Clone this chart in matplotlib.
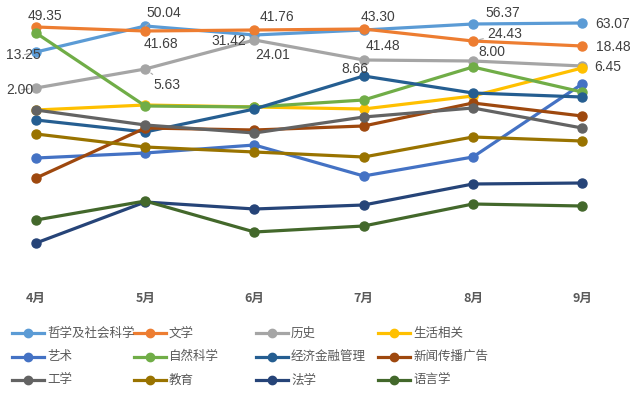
import matplotlib
matplotlib.use('Agg')
import matplotlib.pyplot as plt
from matplotlib.lines import Line2D

plt.rcParams['font.family'] = ['Noto Sans CJK SC', 'DejaVu Sans']

months = ['4月', '5月', '6月', '7月', '8月', '9月']
names = ['哲学及社会科学', '文学', '历史', '生活相关',
         '艺术', '自然科学', '经济金融管理', '新闻传播广告',
         '工学', '教育', '法学', '语言学']
colors = ['#5B9BD5', '#ED7D31', '#A5A5A5', '#FFC000',
          '#4472C4', '#70AD47', '#255E91', '#9E480E',
          '#636363', '#997300', '#264478', '#43682B']

# 各类别每月的相对位置（图中无纵轴，按图读取）
zhexue = [233, 259, 250, 255, 261, 262]
wenxue = [258, 254, 255, 256, 244, 239]
lishi = [197, 216, 245, 225, 224, 219]
shenghuo = [175, 180, 178, 176, 189, 217]
yishu = [127, 132, 140, 109, 128, 201]
ziran = [252, 179, 178, 185, 218, 193]
jingji = [165, 153, 176, 209, 192, 188]
xinwen = [107, 157, 155, 159, 182, 169]
gongxue = [175, 160, 152, 168, 177, 157]
jiaoyu = [151, 138, 133, 128, 148, 144]
faxue = [42, 83, 76, 80, 101, 102]
yuyan = [65, 84, 53, 59, 81, 79]
series = [zhexue, wenxue, lishi, shenghuo, yishu, ziran,
          jingji, xinwen, gongxue, jiaoyu, faxue, yuyan]

# 数据标签
zhexue_lbl = ['13.25', '50.04', '31.42', '41.48', '56.37', '63.07']
wenxue_lbl = ['49.35', '41.68', '41.76', '43.30', '24.43', '18.48']
lishi_lbl = ['2.00', '5.63', '24.01', '8.66', '8.00', '6.45']

# 标签偏移（像素）
zhexue_off = [(-13, -3), (19, 13), (-26, -6), (19, -16), (30, 11), (31, -1)]
wenxue_off = [(9, 11), (16, -13), (22, 13), (14, 12), (32, 7), (31, -1)]
lishi_off = [(-16, -2), (22, -16), (18, -15), (-9, -9), (19, 9), (26, -1)]
leader = {('13.25'), ('2.00'), ('50.04'), ('5.63'), ('24.43')}

fig = plt.figure(figsize=(6.4, 3.97), dpi=100)
ax = fig.add_axes([0, (397 - 285) / 397, 1, 285 / 397])
x = list(range(len(months)))
for vals, c in zip(series, colors):
    ax.plot(x, vals, color=c, lw=2.3, marker='o', ms=6.5, solid_capstyle='round')

for idx, lbls, offs in [(0, zhexue_lbl, zhexue_off), (1, wenxue_lbl, wenxue_off),
                        (2, lishi_lbl, lishi_off)]:
    for i, (t, o) in enumerate(zip(lbls, offs)):
        ap = None
        if t in leader:
            ap = dict(arrowstyle='-', color='#A6A6A6', lw=0.8, shrinkA=1, shrinkB=5)
        ax.annotate(t, (i, series[idx][i]), xytext=o, textcoords='offset pixels',
                    ha='center', va='center', fontsize=10, color='#404040',
                    family='Liberation Sans', arrowprops=ap)

ax.set_xlim(-0.33, 5.53)
ax.set_ylim(0, 285)
ax.set_xticks(x)
ax.set_xticklabels(months, fontsize=9, fontweight='bold', color='#595959')
ax.tick_params(axis='x', length=0, pad=5)
ax.set_yticks([])
for s in ax.spines.values():
    s.set_visible(False)

# 图例
for i, (n, c) in enumerate(zip(names, colors)):
    r, col = divmod(i, 4)
    x0 = 12 + col * 122
    y0 = 397 - (333 + r * 23.5)
    fig.add_artist(Line2D([x0 / 640, (x0 + 32) / 640], [y0 / 397, y0 / 397],
                          color=c, lw=2.3, marker=None))
    fig.add_artist(Line2D([(x0 + 16) / 640], [y0 / 397], color=c,
                          marker='o', ms=6))
    fig.text((x0 + 35) / 640, y0 / 397, n, fontsize=9, color='#595959',
             va='center', ha='left')

fig.savefig('out.png', dpi=100)
